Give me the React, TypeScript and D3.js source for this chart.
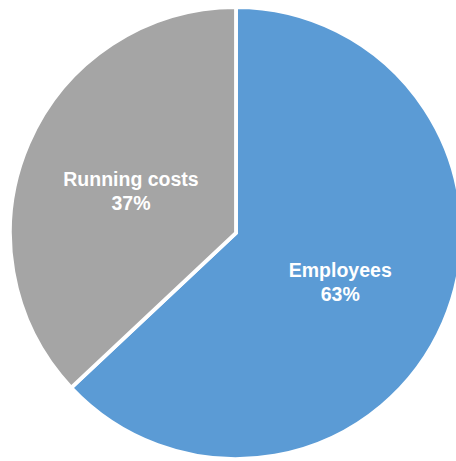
import React, { useEffect, useRef } from "react";
import * as d3 from "d3";

const categories = ["Employees", "Running costs"];
const values = [63, 37];
const colors = ["#5B9BD5", "#A5A5A5"];
// label placement: angle (deg, clockwise from top) and radius fraction
const labelAngles = [114, 293];
const labelRadiusFrac = 0.505;

const W = 456;
const H = 461;
const cx = 236;
const cy = 233;
const R = 226;

export default function App() {
  const ref = useRef<SVGSVGElement | null>(null);
  useEffect(() => {
    const svg = d3.select(ref.current);
    svg.selectAll("*").remove();
    const g = svg.append("g").attr("transform", `translate(${cx},${cy})`);
    const data = categories.map((c, i) => ({ c, v: values[i], i }));
    const pie = d3.pie<any>().value((d) => d.v).sort(null);
    const arc = d3.arc<any>().innerRadius(0).outerRadius(R);
    const arcs = pie(data);
    g.selectAll("path")
      .data(arcs)
      .enter()
      .append("path")
      .attr("d", arc as any)
      .attr("fill", (d: any) => colors[d.data.i])
      .attr("stroke", "#FFFFFF")
      .attr("stroke-width", 3.8)
      .attr("stroke-linejoin", "miter");
    const total = d3.sum(values);
    arcs.forEach((a: any) => {
      const i = a.data.i;
      const ang = (labelAngles[i] * Math.PI) / 180;
      const lx = Math.sin(ang) * R * labelRadiusFrac;
      const ly = -Math.cos(ang) * R * labelRadiusFrac;
      const t = g
        .append("text")
        .attr("x", lx)
        .attr("y", ly)
        .attr("text-anchor", "middle")
        .attr("fill", "#FFFFFF")
        .attr("font-family", "Liberation Sans, Arial, sans-serif")
        .attr("font-weight", "bold")
        .attr("font-size", 19.5);
      t.append("tspan").attr("x", lx).attr("dy", "-0.12em").text(a.data.c);
      t.append("tspan")
        .attr("x", lx)
        .attr("dy", "1.25em")
        .text(Math.round((a.data.v / total) * 100) + "%");
    });
  }, []);
  return (
    <svg
      ref={ref}
      width={W}
      height={H}
      style={{ position: "absolute", left: 0, top: 0, background: "#FFFFFF" }}
    />
  );
}
